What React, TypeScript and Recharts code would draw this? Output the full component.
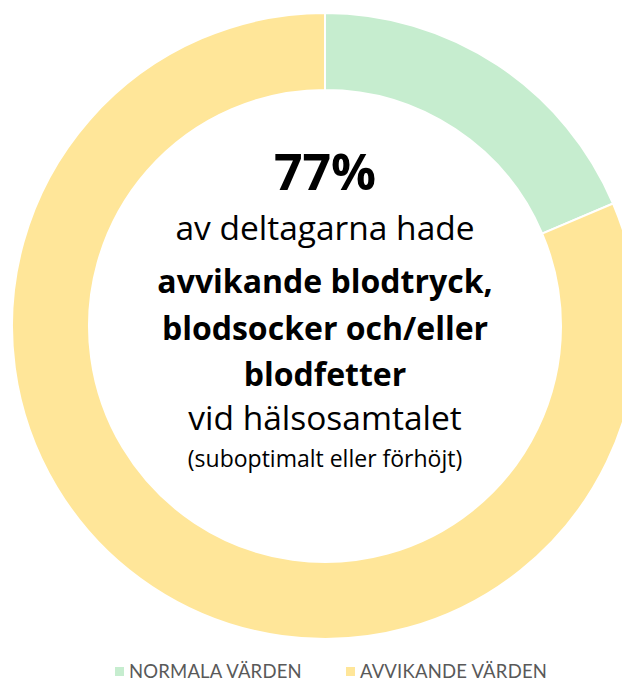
import { PieChart, Pie, Cell, Legend, Label } from 'recharts';

// ── Data ───────────────────────────────────────────────────────────────────────
const categories = ['NORMALA VÄRDEN', 'AVVIKANDE VÄRDEN'];
const shares = [18.6, 81.4];
const colors = ['#C6EDCF', '#FFE699'];

const headline = '77%';
const introLine = 'av deltagarna hade';
const boldLines = ['avvikande blodtryck,', 'blodsocker och/eller', 'blodfetter'];
const outroLine = 'vid hälsosamtalet';
const noteLine = '(suboptimalt eller förhöjt)';

const data = categories.map((name, i) => ({ name, value: shares[i] }));

const FONT = '"Open Sans", Lato, sans-serif';
const LEGEND_FONT = 'Lato, "Open Sans", sans-serif';
const CX = 317;
const CY = 318;

// Center text block
const CenterText = () => (
  <g fontFamily={FONT} fill="#000" textAnchor="middle">
    <text x={CX} y={CY - 136} fontSize={50} fontWeight={700}>{headline}</text>
    <text x={CX} y={CY - 86} fontSize={33.5}>{introLine}</text>
    {boldLines.map((l, i) => (
      <text key={l} x={CX} y={CY - 33 + i * 46.5} fontSize={32} fontWeight={700}>{l}</text>
    ))}
    <text x={CX} y={CY + 104} fontSize={33.5}>{outroLine}</text>
    <text x={CX} y={CY + 141} fontSize={23}>{noteLine}</text>
  </g>
);

const LegendRow = () => (
  <div style={{ display: 'flex', justifyContent: 'center', gap: 44, paddingLeft: 24, fontFamily: LEGEND_FONT }}>
    {categories.map((c, i) => (
      <div key={c} style={{ display: 'flex', alignItems: 'center', gap: 5 }}>
        <span style={{ width: 9, height: 9, background: colors[i], display: 'inline-block' }} />
        <span style={{ color: '#595959', fontSize: 18.5, letterSpacing: 0.2, lineHeight: '20px' }}>{c}</span>
      </div>
    ))}
  </div>
);

export default function App() {
  return (
    <div style={{ width: 622, height: 673, background: '#fff' }}>
      <PieChart width={622} height={673} margin={{ top: 0, right: 0, bottom: 0, left: 0 }}>
        <Pie
          data={data}
          dataKey="value"
          nameKey="name"
          cx={CX}
          cy={CY}
          innerRadius={236}
          outerRadius={313}
          startAngle={90}
          endAngle={-270}
          stroke="#fff"
          strokeWidth={2}
          isAnimationActive={false}
        >
          {data.map((d, i) => (
            <Cell key={d.name} fill={colors[i]} />
          ))}
          <Label position="center" content={<CenterText />} />
        </Pie>
        <Legend
          verticalAlign="bottom"
          content={<LegendRow />}
          wrapperStyle={{ bottom: 0, left: 0, width: 622 }}
        />
      </PieChart>
    </div>
  );
}
